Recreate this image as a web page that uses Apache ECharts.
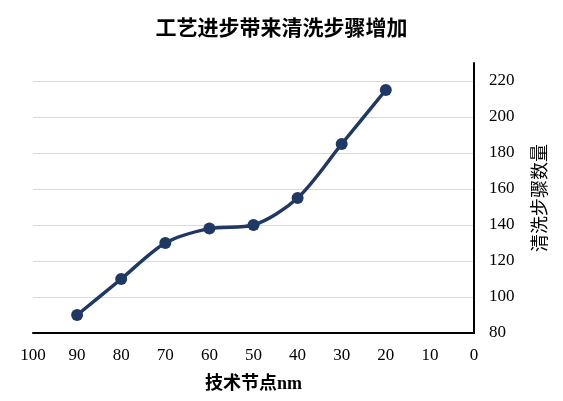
<!DOCTYPE html>
<html><head><meta charset="utf-8">
<script src="https://cdn.jsdelivr.net/npm/echarts@6/dist/echarts.min.js"></script>
<style>html,body{margin:0;padding:0;background:#fff}#c{width:563px;height:401px}</style>
</head><body><div id="c"></div>
<script>
const nodes = [90, 80, 70, 60, 50, 40, 30, 20];
const steps = [90, 110, 130, 138, 140, 155, 185, 215];
const title = '工艺进步带来清洗步骤增加';
const xName = '技术节点nm';
const yName = '清洗步骤数量';
const FONT = '"Liberation Serif", "Noto Sans CJK SC", serif';
const chart = echarts.init(document.getElementById('c'));
chart.setOption({
  backgroundColor: '#fff',
  animation: false,
  title: { text: title, left: 'center', top: 14,
    textStyle: { fontFamily: FONT, fontSize: 21, fontWeight: 'bold', color: '#000' } },
  grid: { left: 33, right: 89, top: 63, bottom: 68 },
  xAxis: { type: 'value', inverse: true, min: 0, max: 100, interval: 10,
    name: xName, nameLocation: 'middle', nameGap: 42,
    nameTextStyle: { fontFamily: FONT, fontSize: 18, fontWeight: 'bold', color: '#000' },
    axisLine: { show: true, onZero: false, lineStyle: { color: '#000', width: 2 } },
    axisTick: { show: false },
    axisLabel: { fontFamily: FONT, fontSize: 17, color: '#000', margin: 14 },
    splitLine: { show: false } },
  yAxis: { type: 'value', position: 'right', min: 80, max: 230, interval: 20,
    name: yName, nameLocation: 'middle', nameGap: 58,
    nameTextStyle: { fontFamily: FONT, fontSize: 18, color: '#000' },
    axisLine: { show: true, lineStyle: { color: '#000', width: 2 } },
    axisTick: { show: false },
    axisLabel: { fontFamily: FONT, fontSize: 17, color: '#000', margin: 15, showMaxLabel: false, padding: [5, 0, 0, 0] },
    splitLine: { show: true, showMaxLine: false, showMinLine: false, lineStyle: { color: '#d9d9d9', width: 1 } } },
  series: [{ type: 'line', smooth: 0.3,
    data: nodes.map((n, i) => [n, steps[i]]),
    symbol: 'circle', symbolSize: 12,
    lineStyle: { color: '#1f3864', width: 3.5 },
    itemStyle: { color: '#1f3864' } }]
});
</script></body></html>
